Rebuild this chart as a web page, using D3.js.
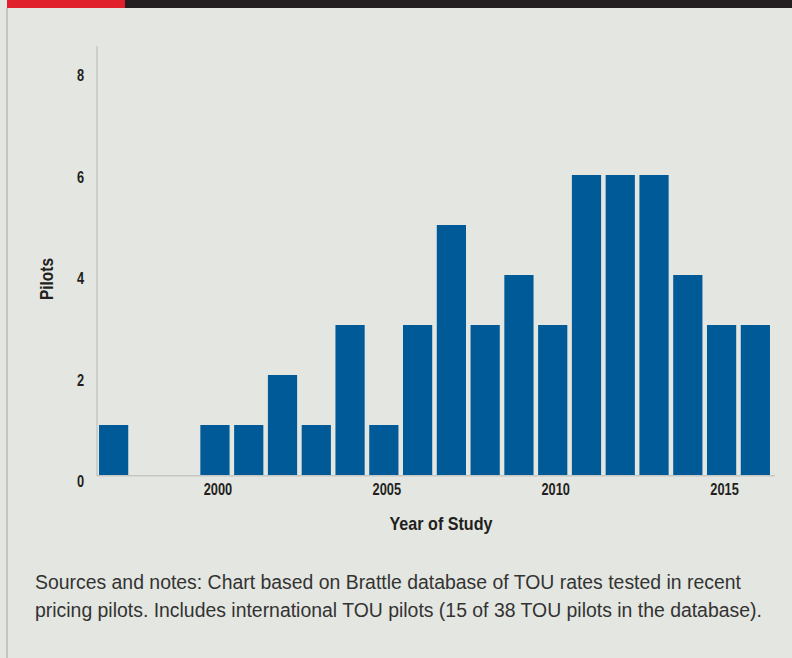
<!DOCTYPE html>
<html>
<head>
<meta charset="utf-8">
<script src="https://cdn.jsdelivr.net/npm/d3@7"></script>
<style>
  html, body { margin: 0; padding: 0; background: #e4e6e1; }
  svg { display: block; }
  text { font-family: "Liberation Sans", Arial, sans-serif; }
</style>
</head>
<body>
<script>
// Pilots tested per year of study
const years = [1997, 1998, 1999, 2000, 2001, 2002, 2003, 2004, 2005, 2006,
               2007, 2008, 2009, 2010, 2011, 2012, 2013, 2014, 2015, 2016];
const pilots = [1, 0, 0, 1, 1, 2, 1, 3, 1, 3,
                5, 3, 4, 3, 6, 6, 6, 4, 3, 3];
const yTicks = [0, 2, 4, 6, 8];
const xTickYears = [2000, 2005, 2010, 2015];
const yTitle = "Pilots";
const xTitle = "Year of Study";
const noteLines = [
  "Sources and notes: Chart based on Brattle database of TOU rates tested in recent",
  "pricing pilots. Includes international TOU pilots (15 of 38 TOU pilots in the database)."
];

const W = 792, H = 658;
const ink = "#231f20";
const svg = d3.select("body").append("svg").attr("width", W).attr("height", H);

// squeeze a text horizontally so it spans the given width, keeping its anchor point
function condense(sel, width, ax, ay) {
  const natural = sel.node().getComputedTextLength();
  const k = width / natural;
  sel.attr("transform", `translate(${ax},${ay}) scale(${k},1) translate(${-ax},${-ay})`);
}

// panel background and frame
svg.append("rect").attr("x", 0).attr("y", 0).attr("width", W).attr("height", H).attr("fill", "#e4e6e1");
svg.append("rect").attr("x", 6).attr("y", 8).attr("width", 2).attr("height", H - 8).attr("fill", "#c4c5c2");
// header strip
svg.append("rect").attr("x", 7).attr("y", 0).attr("width", 118).attr("height", 8).attr("fill", "#e0202a");
svg.append("rect").attr("x", 125).attr("y", 0).attr("width", W - 125).attr("height", 8).attr("fill", ink);

const plot = { left: 97, right: 772, top: 46, bottom: 475 };

const x = d3.scaleBand()
  .domain(years)
  .range([plot.left, plot.right])
  .paddingInner(0.135)
  .paddingOuter(0.06);

const y = d3.scaleLinear().domain([0, 8]).range([plot.bottom, 75]);
// tick labels sit on a slightly taller ladder than the bars
const yLabel = d3.scaleLinear().domain([0, 8]).range([481, 75]);

// bars
svg.append("g").selectAll("rect")
  .data(years.map((yr, i) => ({ yr, v: pilots[i] })).filter(d => d.v > 0))
  .join("rect")
  .attr("x", d => x(d.yr))
  .attr("y", d => y(d.v))
  .attr("width", x.bandwidth())
  .attr("height", d => y(0) - y(d.v))
  .attr("fill", "#005a97");

// axis lines
svg.append("line")
  .attr("x1", plot.left).attr("x2", plot.left)
  .attr("y1", plot.top).attr("y2", plot.bottom + 1)
  .attr("stroke", "#c6c7c4").attr("stroke-width", 1.5);
svg.append("line")
  .attr("x1", plot.left).attr("x2", 775)
  .attr("y1", plot.bottom + 0.75).attr("y2", plot.bottom + 0.75)
  .attr("stroke", "#c6c7c4").attr("stroke-width", 1.5);

// y tick labels (condensed by horizontal scaling)
const yAxis = d3.axisLeft(yLabel).tickValues(yTicks).tickSize(0).tickPadding(0);
const gy = svg.append("g").attr("transform", `translate(${plot.left - 13},0)`).call(yAxis);
gy.select(".domain").remove();
gy.selectAll("text")
  .attr("dy", null).attr("dominant-baseline", "central")
  .attr("transform", "scale(0.8,1)")
  .attr("fill", ink).attr("font-size", 16).attr("font-weight", "bold")
  .style("font-family", "'Liberation Sans', Arial, sans-serif");

// x tick labels
const xAxis = d3.axisBottom(x).tickValues(xTickYears).tickSize(0).tickPadding(0);
const gx = svg.append("g").attr("transform", `translate(3,${plot.bottom + 9})`).call(xAxis);
gx.select(".domain").remove();
gx.selectAll("text")
  .attr("transform", "scale(0.8,1)")
  .attr("fill", ink).attr("font-size", 16).attr("font-weight", "bold")
  .style("font-family", "'Liberation Sans', Arial, sans-serif");

// axis titles
svg.append("text")
  .attr("transform", `translate(53,279) rotate(-90) scale(0.86,1)`)
  .attr("text-anchor", "middle")
  .attr("font-size", 18).attr("font-weight", "bold").attr("fill", ink)
  .text(yTitle);
const xt = svg.append("text")
  .attr("x", 441).attr("y", 530)
  .attr("text-anchor", "middle")
  .attr("font-size", 18).attr("font-weight", "bold").attr("fill", ink)
  .text(xTitle);
condense(xt, 103, 441, 530);

// notes
const noteWidths = [706, 727];
svg.append("g").selectAll("text")
  .data(noteLines)
  .join("text")
  .attr("x", 35)
  .attr("y", (d, i) => 589 + i * 28)
  .attr("font-size", 21).attr("fill", "#333333")
  .text(d => d)
  .each(function (d, i) { condense(d3.select(this), noteWidths[i], 35, 589 + i * 28); });
</script>
</body>
</html>
